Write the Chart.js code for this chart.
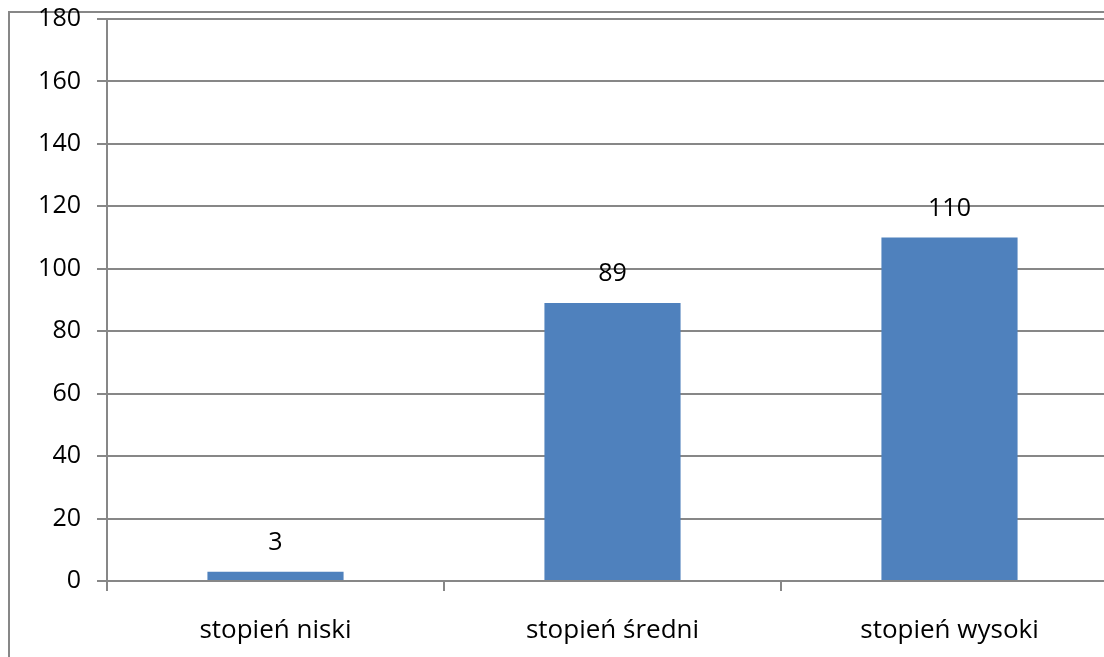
<!DOCTYPE html>
<html>
<head>
<meta charset="utf-8">
<script src="https://cdn.jsdelivr.net/npm/chart.js@4"></script>
<style>
  html, body { margin: 0; padding: 0; background: #fff; overflow: hidden; }
  #wrap { position: absolute; left: 0; top: 0; width: 1120px; height: 657px; }
</style>
</head>
<body>
<div id="wrap"><canvas id="wykres" width="1120" height="657"></canvas></div>
<script>
// dane z wykresu
const kategorie = ['stopień niski', 'stopień średni', 'stopień wysoki'];
const wartosci = [3, 89, 110];
const yMin = 0, yMax = 180, yKrok = 20;

const szary = '#878787';
const czcionka = { family: 'Open Sans', size: 25 };
const czcionkaX = { family: 'Open Sans', size: 26 };

// ramka dookoła wykresu (lewa i górna krawędź widoczna)
const ramka = {
    id: 'ramka',
    beforeDraw(chart) {
        const c = chart.ctx;
        c.save();
        c.strokeStyle = szary;
        c.lineWidth = 2;
        c.beginPath();
        c.moveTo(9, 657);
        c.lineTo(9, 12);
        c.lineTo(chart.width, 12);
        c.stroke();
        c.restore();
    }
};

// etykiety wartości nad słupkami
const etykiety = {
    id: 'etykiety',
    afterDatasetsDraw(chart) {
        const c = chart.ctx;
        const meta = chart.getDatasetMeta(0);
        c.save();
        c.fillStyle = '#000';
        c.font = czcionka.size + 'px ' + czcionka.family;
        c.textAlign = 'center';
        c.textBaseline = 'middle';
        meta.data.forEach((bar, i) => {
            c.fillText(String(wartosci[i]), bar.x, bar.y - 29);
        });
        c.restore();
    }
};

new Chart(document.getElementById('wykres'), {
    type: 'bar',
    data: {
        labels: kategorie,
        datasets: [{
            data: wartosci,
            backgroundColor: '#4F81BD',
            categoryPercentage: 1,
            barPercentage: 0.404
        }]
    },
    options: {
        responsive: false,
        animation: false,
        layout: { padding: { left: 0, right: 2, top: 19, bottom: 0 } },
        plugins: { legend: { display: false }, tooltip: { enabled: false } },
        scales: {
            x: {
                grid: { offset: true, drawOnChartArea: false, drawTicks: true, tickLength: 10, color: szary, lineWidth: 2 },
                border: { color: szary, width: 2 },
                ticks: { color: '#000', font: czcionkaX, padding: 24, maxRotation: 0 },
                afterFit(s) { s.height = 76; s.paddingLeft = 0; s.paddingRight = 0; }
            },
            y: {
                min: yMin, max: yMax,
                grid: { color: szary, lineWidth: 2, tickLength: 10 },
                border: { color: szary, width: 2 },
                ticks: { stepSize: yKrok, color: '#000', font: czcionka, padding: 16 },
                afterFit(s) { s.width = 107; s.paddingTop = 0; s.paddingBottom = 0; }
            }
        }
    },
    plugins: [ramka, etykiety]
});
</script>
</body>
</html>
